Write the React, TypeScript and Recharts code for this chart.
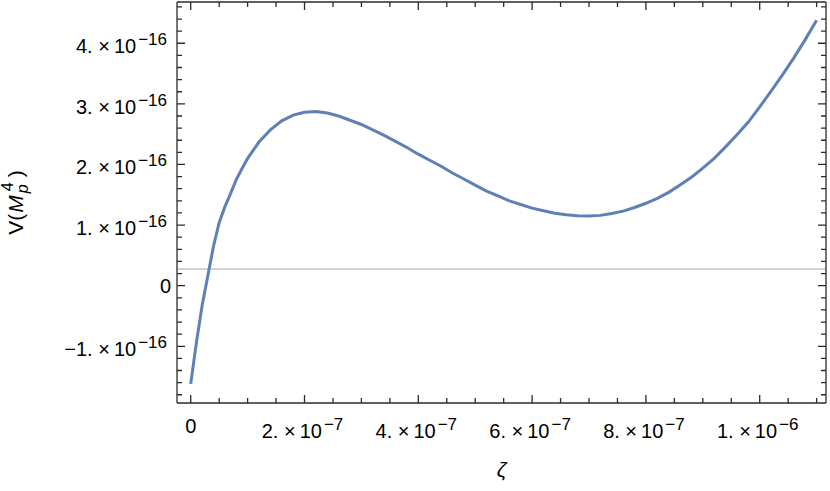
import React from 'react';
import { LineChart, Line, XAxis, YAxis, ReferenceLine, Label } from 'recharts';

// zeta in units of 1e-6
const zetaMicro = [
  0, 0.01, 0.02, 0.03, 0.04, 0.05, 0.06, 0.07, 0.08, 0.09, 0.1, 0.12, 0.14, 0.16, 0.18, 0.2,
  0.22, 0.24, 0.26, 0.28, 0.3, 0.32, 0.34, 0.36, 0.38, 0.4, 0.42, 0.44, 0.46, 0.48, 0.5,
  0.52, 0.54, 0.56, 0.58, 0.6, 0.62, 0.64, 0.66, 0.68, 0.7, 0.72, 0.74, 0.76, 0.78, 0.8,
  0.82, 0.84, 0.86, 0.88, 0.9, 0.92, 0.94, 0.96, 0.98, 1.0, 1.02, 1.04, 1.06, 1.08, 1.1,
];
// V in units of 1e-16
const potential = [
  -1.62, -0.94, -0.33, 0.16, 0.65, 1.04, 1.3, 1.52, 1.75, 1.93, 2.1, 2.37, 2.57, 2.72, 2.815, 2.86,
  2.875, 2.85, 2.8, 2.73, 2.66, 2.57, 2.48, 2.38, 2.28, 2.17, 2.07, 1.97, 1.86, 1.76, 1.66,
  1.56, 1.48, 1.4, 1.34, 1.28, 1.235, 1.195, 1.17, 1.155, 1.15, 1.16, 1.19, 1.23, 1.29, 1.36,
  1.44, 1.54, 1.66, 1.79, 1.94, 2.1, 2.29, 2.49, 2.7, 2.95, 3.21, 3.48, 3.76, 4.06, 4.38,
];
const ZETA_UNIT = 1e-6;
const V_UNIT = 1e-16;

const xTickLabels = ['0', '2.×10^−7', '4.×10^−7', '6.×10^−7', '8.×10^−7', '1.×10^−6'];
const yTickLabels = ['−1.×10^−16', '0', '1.×10^−16', '2.×10^−16', '3.×10^−16', '4.×10^−16'];
const refLineValue = 0.275e-16;

const X_MINOR = 5e-8;
const Y_MINOR = 2e-17;
const xDomain = [-0.0241e-6, 1.1165e-6];
const yDomain = [-1.936e-16, 4.681e-16];

const xTicks: number[] = [];
for (let i = 0; i <= 22; i++) xTicks.push(i * X_MINOR);
const yTicks: number[] = [];
for (let i = -9; i <= 23; i++) yTicks.push(i * Y_MINOR);

const data = zetaMicro.map((z, i) => ({ z: z * ZETA_UNIT, v: potential[i] * V_UNIT }));

const FONT = '"Liberation Sans", Arial, Helvetica, sans-serif';
const FRAME = '#2b2b2b';
const MAJOR = 8;
const MINOR = 5;
const BASE_FS = 20;
const SUP_FS = 17;

function renderLabel(s: string, x: number, y: number, anchor: string) {
  const [b, e] = s.split('^');
  const base = b.replace('×', ' ×\u2009');
  return (
    <text x={x} y={y} textAnchor={anchor} fontFamily={FONT} fontSize={BASE_FS} fill="#000" style={{ whiteSpace: 'pre' }}>
      <tspan>{base}</tspan>
      {e ? (
        <tspan dx={2} dy={-8} fontSize={SUP_FS}>
          {e}
        </tspan>
      ) : null}
    </text>
  );
}

const BottomTick = (props: any) => {
  const x = Number(props.x);
  const y = Number(props.y);
  const idx = Math.round(props.payload.value / X_MINOR);
  const label = idx % 4 === 0 ? xTickLabels[idx / 4] : null;
  if (!label) return null;
  const hasExp = label.includes('^');
  return renderLabel(label, hasExp ? x - 2 : x, y + (hasExp ? 35 : 30), 'middle');
};

const LeftTick = (props: any) => {
  const x = Number(props.x);
  const y = Number(props.y);
  const idx = Math.round(props.payload.value / Y_MINOR);
  const label = idx % 5 === 0 ? yTickLabels[idx / 5 + 1] : null;
  if (!label) return null;
  const hasExp = label.includes('^');
  return renderLabel(label, hasExp ? x - 10 : x - 6, y + (hasExp ? 10 : 7.5), 'end');
};

// tick marks on all four frame sides, drawn from a reference line's scaled end points
const makeXTickShape = (len: number) => (p: any) => {
  const x = Number(p.x1);
  const top = Math.min(Number(p.y1), Number(p.y2));
  const bottom = Math.max(Number(p.y1), Number(p.y2));
  return (
    <path
      d={`M${x},${bottom}L${x},${bottom - len}M${x},${top}L${x},${top + len}`}
      stroke={FRAME}
      strokeWidth={1.3}
      fill="none"
    />
  );
};
const makeYTickShape = (len: number) => (p: any) => {
  const y = Number(p.y1);
  const left = Math.min(Number(p.x1), Number(p.x2));
  const right = Math.max(Number(p.x1), Number(p.x2));
  return (
    <path
      d={`M${left},${y}L${left + len},${y}M${right},${y}L${right - len},${y}`}
      stroke={FRAME}
      strokeWidth={1.3}
      fill="none"
    />
  );
};
const xMajorShape = makeXTickShape(MAJOR);
const xMinorShape = makeXTickShape(MINOR);
const yMajorShape = makeYTickShape(MAJOR);
const yMinorShape = makeYTickShape(MINOR);

const YTitle = (props: any) => {
  const vb = props.viewBox || { x: 0, y: 2, width: 177, height: 401 };
  const cx = vb.x + 23;
  const cy = vb.y + vb.height / 2;
  return (
    <text
      x={cx}
      y={cy}
      transform={`rotate(-90, ${cx}, ${cy})`}
      textAnchor="middle"
      fontFamily={FONT}
      fontSize={21}
      fill="#000"
    >
      <tspan>V(</tspan>
      <tspan fontStyle="italic" dx={1}>M</tspan>
      <tspan fontStyle="italic" fontSize={16} dx={2} dy={5}>
        p
      </tspan>
      <tspan fontSize={16} dx={-7} dy={-15}>
        4
      </tspan>
      <tspan dx={5} dy={10}>)</tspan>
    </text>
  );
};

const XTitle = (props: any) => {
  const vb = props.viewBox || { x: 177, y: 403, width: 649, height: 88 };
  const cx = vb.x + vb.width / 2;
  return (
    <text x={cx} y={477} textAnchor="middle" fontFamily={FONT} fontSize={21} fontStyle="italic" fill="#000">
      ζ
    </text>
  );
};

export default function App() {
  return (
    <div style={{ position: 'absolute', left: 0, top: 0, width: 830, height: 491, background: '#fff' }}>
      <LineChart width={830} height={491} data={data} margin={{ top: 1, right: 3, bottom: 0, left: 0 }}>
        <XAxis
          dataKey="z"
          type="number"
          domain={xDomain}
          allowDataOverflow
          ticks={xTicks}
          interval={0}
          height={88}
          tickSize={0}
          tickMargin={0}
          tickLine={false}
          axisLine={{ stroke: FRAME, strokeWidth: 1.3 }}
          tick={<BottomTick />}
        >
          <Label content={<XTitle />} />
        </XAxis>
        <XAxis
          xAxisId="top"
          orientation="top"
          dataKey="z"
          type="number"
          domain={xDomain}
          allowDataOverflow
          ticks={[]}
          height={1}
          tickSize={0}
          tickLine={false}
          tick={false}
          axisLine={{ stroke: FRAME, strokeWidth: 1.3 }}
        />
        <YAxis
          type="number"
          domain={yDomain}
          allowDataOverflow
          ticks={yTicks}
          interval={0}
          width={177}
          tickSize={0}
          tickMargin={0}
          tickLine={false}
          axisLine={{ stroke: FRAME, strokeWidth: 1.3 }}
          tick={<LeftTick />}
        >
          <Label content={<YTitle />} />
        </YAxis>
        <YAxis
          yAxisId="right"
          orientation="right"
          type="number"
          domain={yDomain}
          allowDataOverflow
          ticks={[]}
          width={1}
          tickSize={0}
          tickLine={false}
          tick={false}
          axisLine={{ stroke: FRAME, strokeWidth: 1.3 }}
        />
        {xTicks.map((v) => (
          <ReferenceLine
            key={`xt${v}`}
            x={v}
            shape={Math.round(v / X_MINOR) % 4 === 0 ? xMajorShape : xMinorShape}
          />
        ))}
        {yTicks.map((v) => (
          <ReferenceLine
            key={`yt${v}`}
            y={v}
            shape={Math.round(v / Y_MINOR) % 5 === 0 ? yMajorShape : yMinorShape}
          />
        ))}
        <ReferenceLine y={refLineValue} stroke="#c4c4c4" strokeWidth={1.3} />
        <Line
          type="linear"
          dataKey="v"
          stroke="#5E81B5"
          strokeWidth={3}
          dot={false}
          isAnimationActive={false}
        />
      </LineChart>
    </div>
  );
}
